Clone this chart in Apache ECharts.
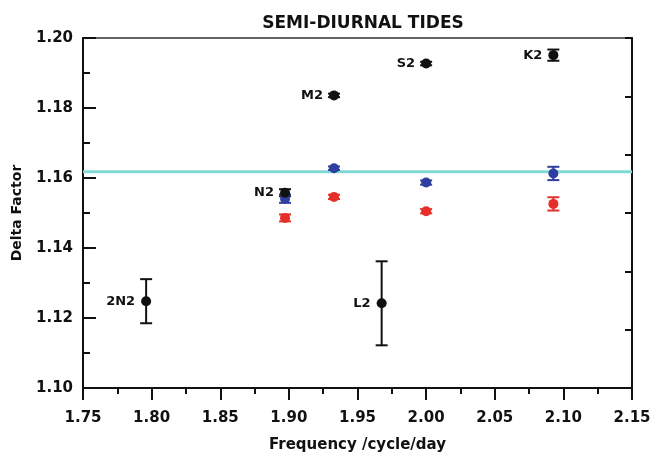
<!DOCTYPE html>
<html>
<head>
<meta charset="utf-8">
<script src="https://cdn.jsdelivr.net/npm/echarts@6/dist/echarts.min.js"></script>
<style>
  html, body { margin: 0; padding: 0; background: #fff; }
  #chart { width: 651px; height: 455px; }
</style>
</head>
<body>
<div id="chart"></div>
<script>
// * Tidal constituents (black points, labelled)
const constituents = ["2N2", "N2", "M2", "L2", "S2", "K2"];
const frequencies = [1.796, 1.8972, 1.9329, 1.9676, 2.0, 2.0927];
const blackValues = [1.1248, 1.1558, 1.1836, 1.1242, 1.1927, 1.1951];
const blackErrors = [0.0063, 0.001, 0.0005, 0.012, 0.0005, 0.0016];

// * Blue and red series (N2, M2, S2, K2)
const subFrequencies = [1.8972, 1.9329, 2.0, 2.0927];
const blueValues = [1.1541, 1.1628, 1.1587, 1.1613];
const blueErrors = [0.0012, 0.0005, 0.0006, 0.0019];
const redValues = [1.1486, 1.1546, 1.1505, 1.1526];
const redErrors = [0.001, 0.0006, 0.0006, 0.0019];

// * Reference level (cyan line) across the frequency range
const referenceX = [1.75, 2.15];
const referenceLevel = 1.1618;

const blackColor = "#111111";
const blueColor = "#2f3f9f";
const redColor = "#e5302a";
const fontFamily = "'DejaVu Sans', 'Liberation Sans', sans-serif";

function errorBarSeries(xs, ys, errs, color) {
  return {
    type: "custom",
    data: xs.map((x, i) => [x, ys[i], errs[i]]),
    z: 3,
    silent: true,
    renderItem: (params, api) => {
      const x = api.value(0);
      const y = api.value(1);
      const e = api.value(2);
      const top = api.coord([x, y + e]);
      const bot = api.coord([x, y - e]);
      const hw = 6;
      const style = { stroke: color, lineWidth: 2 };
      return {
        type: "group",
        children: [
          { type: "line", shape: { x1: top[0], y1: top[1], x2: bot[0], y2: bot[1] }, style },
          { type: "line", shape: { x1: top[0] - hw, y1: top[1], x2: top[0] + hw, y2: top[1] }, style },
          { type: "line", shape: { x1: bot[0] - hw, y1: bot[1], x2: bot[0] + hw, y2: bot[1] }, style },
        ],
      };
    },
  };
}

const myChart = echarts.init(document.getElementById("chart"));

const option = {
  animation: false,
  backgroundColor: "#fff",
  title: {
    text: "SEMI-DIURNAL TIDES",
    left: 358,
    textAlign: "center",
    top: 10,
    textStyle: { fontFamily, fontSize: 17, fontWeight: "bold", color: "#111" },
  },
  grid: {
    left: 83, right: 19, top: 38, bottom: 67,
    outerBoundsMode: "none",
    containLabel: false,
    show: true, borderColor: "#333", borderWidth: 1.5,
  },
  xAxis: {
    type: "value",
    min: 1.75, max: 2.15, interval: 0.05,
    name: "Frequency /cycle/day",
    nameLocation: "middle",
    nameGap: 50,
    nameTextStyle: { fontFamily, fontSize: 15, fontWeight: "bold", color: "#111" },
    axisLine: { onZero: false, lineStyle: { color: "#111", width: 2 } },
    axisTick: { inside: false, length: 12, lineStyle: { color: "#111", width: 2 } },
    minorTick: { show: true, splitNumber: 2, length: 6, lineStyle: { color: "#111", width: 2 } },
    axisLabel: {
      margin: 23, fontFamily, fontSize: 15, fontWeight: "bold", color: "#111",
      formatter: (v) => v.toFixed(2),
    },
    splitLine: { show: false },
  },
  yAxis: [
    {
      type: "value",
      min: 1.1, max: 1.2, interval: 0.02,
      name: "Delta Factor",
      nameLocation: "middle",
      nameGap: 59,
      nameTextStyle: { fontFamily, fontSize: 14, fontWeight: "bold", color: "#111" },
      axisLine: { show: true, onZero: false, lineStyle: { color: "#111", width: 2 } },
      axisTick: { show: true, inside: true, length: 13, lineStyle: { color: "#111", width: 2 } },
      minorTick: { show: true, splitNumber: 2, length: 7, lineStyle: { color: "#111", width: 2 } },
      axisLabel: {
        margin: 10, fontFamily, fontSize: 15, fontWeight: "bold", color: "#111",
        formatter: (v) => v.toFixed(2),
      },
      splitLine: { show: false },
    },
    {
      // * Secondary right axis: ticks only
      type: "value",
      position: "right",
      min: 0, max: 6, interval: 1,
      axisLine: { show: true, onZero: false, lineStyle: { color: "#111", width: 2 } },
      axisTick: { show: true, inside: true, length: 7, lineStyle: { color: "#111", width: 2 } },
      axisLabel: { show: false },
      splitLine: { show: false },
    },
  ],
  series: [
    {
      type: "line",
      data: referenceX.map((x) => [x, referenceLevel]),
      symbol: "none",
      silent: true,
      lineStyle: { color: "#7fdad6", width: 3 },
      z: 2,
    },
    errorBarSeries(frequencies, blackValues, blackErrors, blackColor),
    errorBarSeries(subFrequencies, blueValues, blueErrors, blueColor),
    errorBarSeries(subFrequencies, redValues, redErrors, redColor),
    {
      type: "scatter",
      symbolSize: 10,
      itemStyle: { color: blueColor, opacity: 1 },
      data: subFrequencies.map((x, i) => [x, blueValues[i]]),
      z: 4,
    },
    {
      type: "scatter",
      symbolSize: 10,
      itemStyle: { color: redColor, opacity: 1 },
      data: subFrequencies.map((x, i) => [x, redValues[i]]),
      z: 4,
    },
    {
      type: "scatter",
      symbolSize: 10,
      itemStyle: { color: blackColor, opacity: 1 },
      data: frequencies.map((x, i) => ({ value: [x, blackValues[i]], name: constituents[i] })),
      label: {
        show: true,
        position: "left",
        distance: 6,
        formatter: (p) => p.name,
        fontFamily, fontSize: 13, fontWeight: "bold", color: "#111",
      },
      z: 5,
    },
  ],
};

myChart.setOption(option);
</script>
</body>
</html>
